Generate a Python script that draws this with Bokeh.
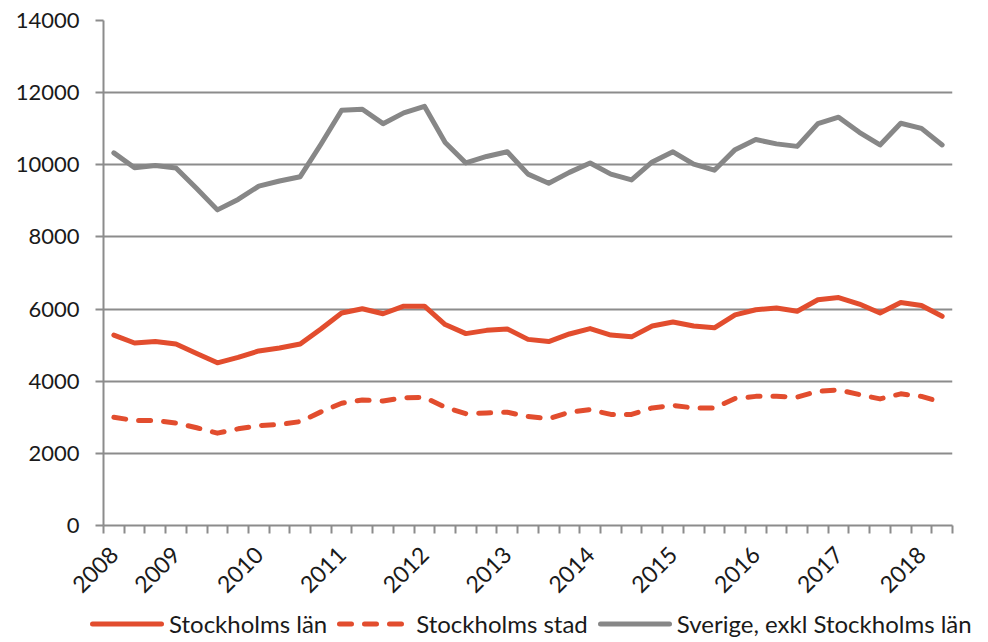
import math
from bokeh.plotting import figure
from bokeh.layouts import column
from bokeh.models import FixedTicker, Div
from bokeh.embed import file_html
from bokeh.resources import INLINE

# ---- data (quarterly observations, 41 points) ----
stockholms_lan = [5280, 5060, 5100, 5030, 4770, 4510, 4660, 4840, 4920, 5030,
                  5450, 5890, 6010, 5870, 6080, 6080, 5570, 5320, 5410, 5450,
                  5160, 5100, 5310, 5460, 5280, 5230, 5530, 5640, 5530, 5480,
                  5840, 5980, 6030, 5940, 6260, 6320, 6140, 5890, 6180, 6100,
                  5800]
stockholms_stad = [3000, 2910, 2910, 2840, 2710, 2560, 2680, 2770, 2800, 2880,
                   3150, 3390, 3480, 3450, 3540, 3550, 3280, 3100, 3120, 3140,
                   3020, 2960, 3140, 3210, 3080, 3080, 3260, 3330, 3260, 3260,
                   3520, 3580, 3580, 3560, 3720, 3760, 3630, 3510, 3650, 3580,
                   3410]
sverige_exkl = [10330, 9920, 9980, 9910, 9340, 8750, 9040, 9410, 9550, 9670,
                10570, 11510, 11540, 11140, 11440, 11620, 10620, 10050, 10230, 10360,
                9740, 9490, 9790, 10050, 9740, 9580, 10080, 10360, 10020, 9850,
                10420, 10700, 10580, 10510, 11140, 11320, 10900, 10550, 11150, 11010,
                10550]
series_names = ["Stockholms län", "Stockholms stad", "Sverige, exkl Stockholms län"]
year_labels = ["2008", "2009", "2010", "2011", "2012", "2013",
               "2014", "2015", "2016", "2017", "2018"]
year_label_index = [0, 3, 7, 11, 15, 19, 23, 27, 31, 35, 39]
y_ticks = [0, 2000, 4000, 6000, 8000, 10000, 12000, 14000]

n = len(sverige_exkl)
x = list(range(n))

RED = "#E24D2E"
GREY = "#878787"
GRID = "#8C8C8C"
FONT = "Lato"
TXT = "#1a1a1a"

styles = [dict(line_color=RED, line_width=5),
          dict(line_color=RED, line_width=5, line_dash="12 13"),
          dict(line_color=GREY, line_width=5)]
series = [stockholms_lan, stockholms_stad, sverige_exkl]

p = figure(width=980, height=605, output_backend="svg", toolbar_location=None,
           x_range=(-0.5, n - 0.5), y_range=(0, 14000),
           min_border_left=103, min_border_right=28, min_border_top=20,
           min_border_bottom=80)
p.outline_line_color = None

for ys, st in zip(series, styles):
    p.line(x, ys, line_join="round", line_cap="round", **st)

# x axis
xa = p.xaxis[0]
xa.ticker = FixedTicker(ticks=year_label_index,
                        minor_ticks=[i - 0.5 for i in range(n + 1)])
xa.major_label_overrides = {i: s for i, s in zip(year_label_index, year_labels)}
xa.major_tick_out = 0
xa.major_tick_in = 0
xa.minor_tick_out = 8
xa.minor_tick_in = 0
xa.minor_tick_line_color = GRID
xa.minor_tick_line_width = 2
xa.axis_line_color = GRID
xa.axis_line_width = 2
xa.major_label_orientation = math.pi / 4
xa.major_label_text_font = FONT
xa.major_label_text_font_size = "23px"
xa.major_label_text_color = TXT
xa.major_label_standoff = 17

# y axis
ya = p.yaxis[0]
ya.ticker = FixedTicker(ticks=y_ticks)
ya.minor_tick_line_color = None
ya.major_tick_out = 8
ya.major_tick_in = 0
ya.major_tick_line_color = GRID
ya.major_tick_line_width = 2
ya.axis_line_color = GRID
ya.axis_line_width = 2
ya.major_label_text_font = FONT
ya.major_label_text_font_size = "22px"
ya.major_label_text_color = TXT
ya.major_label_standoff = 16

p.xgrid.grid_line_color = None
p.ygrid.ticker = FixedTicker(ticks=y_ticks)
p.ygrid.grid_line_color = GRID
p.ygrid.grid_line_width = 2

# ---- legend strip (HTML, real text) below the chart ----
def sample(st):
    dash = st.get("line_dash")
    dash_attr = f' stroke-dasharray="{dash}"' if dash else ""
    return (f'<svg width="74" height="10" style="display:block">'
            f'<line x1="2.5" y1="5" x2="71.5" y2="5" stroke="{st["line_color"]}" '
            f'stroke-width="{st["line_width"]}" stroke-linecap="round"{dash_attr}/></svg>')

parts = []
for name, st in zip(series_names, styles):
    parts.append(f'<div style="display:flex;align-items:center;margin-right:10px">'
                 f'{sample(st)}<span style="margin-left:5px;white-space:nowrap">{name}</span></div>')
html = (f'<div style="display:flex;align-items:center;height:26px;padding-left:90px;'
        f'padding-top:11px;font-family:{FONT};font-size:24px;color:{TXT};line-height:26px">'
        + "".join(parts) + '</div>')
legend_div = Div(text=html, width=980, height=37, margin=0)

open("out.html", "w").write(file_html(column(p, legend_div, spacing=0), INLINE))
